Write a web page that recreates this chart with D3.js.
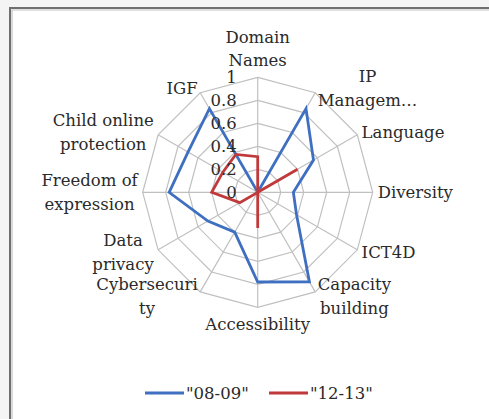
<!DOCTYPE html>
<html>
<head>
<meta charset="utf-8">
<script src="https://cdn.jsdelivr.net/npm/d3@7"></script>
<style>
  html, body { margin: 0; padding: 0; background: #f4f4f4; }
  svg { display: block; }
  text { font-family: "DejaVu Serif", serif; fill: #2a2a2a; }
</style>
</head>
<body>
<svg id="chart" width="489" height="419"></svg>
<script>
// ---- data ----
const categories = ["Domain Names", "IP Management", "Language", "Diversity", "ICT4D",
  "Capacity building", "Accessibility", "Cybersecurity", "Data privacy",
  "Freedom of expression", "Child online protection", "IGF"];
const categoryLabelLines = [["Domain", "Names"], ["IP", "Managem\u2026"], ["Language"], ["Diversity"], ["ICT4D"],
  ["Capacity", "building"], ["Accessibility"], ["Cybersecuri", "ty"], ["Data", "privacy"],
  ["Freedom of", "expression"], ["Child online", "protection"], ["IGF"]];
const seriesNames = ["\"08-09\"", "\"12-13\""];
const values0809 = [0, 0.84, 0.56, 0.31, 0.39, 0.90, 0.78, 0.40, 0.50, 0.77, 0.70, 0.84];
const values1213 = [0.31, 0, 0.40, 0, 0, 0, 0.31, 0, 0.18, 0.40, 0.35, 0.38];
const tickValues = [0, 0.2, 0.4, 0.6, 0.8, 1];
const tickLabels = ["0", "0.2", "0.4", "0.6", "0.8", "1"];
const seriesColors = ["#3e6fc0", "#c0393b"];

// ---- layout ----
const svg = d3.select("#chart");
const cx = 257.7, cy = 192.3, R = 115;
const fontSize = 16.5, lineH = 23.5;

// panel
svg.append("rect").attr("x", 10).attr("y", 8).attr("width", 600).attr("height", 600)
  .attr("fill", "#ffffff").attr("stroke", "#6f6f6f").attr("stroke-width", 2);
svg.append("path").attr("d", "M12,610 V10 H600").attr("fill", "none")
  .attr("stroke", "#c0c0c0").attr("stroke-width", 1.2);

const g = svg.append("g").attr("transform", `translate(${cx},${cy})`);

const r = d3.scaleLinear().domain([0, 1]).range([0, R]);
const angle = d3.scaleLinear().domain([0, categories.length]).range([0, 2 * Math.PI]);

const pt = (i, v) => [Math.sin(angle(i)) * r(v), -Math.cos(angle(i)) * r(v)];

// grid rings
tickValues.filter(t => t > 0).forEach(t => {
  g.append("path")
    .attr("d", d3.lineRadial().angle((d, i) => angle(i)).radius(() => r(t)).curve(d3.curveLinearClosed)(categories))
    .attr("fill", "none").attr("stroke", "#c0c0c0").attr("stroke-width", 1.2);
});
// spokes
categories.forEach((c, i) => {
  const p = pt(i, 1);
  g.append("line").attr("x1", 0).attr("y1", 0).attr("x2", p[0]).attr("y2", p[1])
    .attr("stroke", "#c0c0c0").attr("stroke-width", 1.2);
});

// series
const radial = d3.lineRadial().angle((d, i) => angle(i)).radius(d => r(d)).curve(d3.curveLinearClosed);
[values0809, values1213].forEach((vals, k) => {
  g.append("path").attr("d", radial(vals)).attr("fill", "none")
    .attr("stroke", seriesColors[k]).attr("stroke-width", 2.8).attr("stroke-linejoin", "miter");
});

// tick labels
tickValues.forEach((t, i) => {
  g.append("text").attr("x", -21).attr("y", -r(t)).attr("dy", "0.35em")
    .attr("text-anchor", "end").attr("font-size", fontSize).text(tickLabels[i]);
});

// category labels
categoryLabelLines.forEach((lines, i) => {
  const a = angle(i);
  const s = Math.sin(a), c = -Math.cos(a);
  const px = s * (R + 5), py = c * (R + 5);
  const tg = g.append("g");
  const texts = lines.map(l => tg.append("text").attr("font-size", fontSize).attr("text-anchor", "middle").text(l));
  const w = d3.max(texts, t => t.node().getComputedTextLength());
  const h = lines.length * lineH;
  let midX, topY;
  if (Math.abs(s) < 0.01) {
    midX = px;
    topY = c < 0 ? py - h : py;
  } else {
    midX = s > 0 ? px + w / 2 : px - w / 2;
    topY = py - h / 2;
  }
  texts.forEach((t, j) => t.attr("x", midX).attr("y", topY + lineH * (j + 0.5)).attr("dy", "0.35em"));
});

// legend
const legendY = 393;
const legendX = [145, 269];
seriesNames.forEach((name, k) => {
  svg.append("line").attr("x1", legendX[k]).attr("x2", legendX[k] + 39)
    .attr("y1", legendY).attr("y2", legendY)
    .attr("stroke", seriesColors[k]).attr("stroke-width", 2.8);
  svg.append("text").attr("x", legendX[k] + 41).attr("y", legendY).attr("dy", "0.35em")
    .attr("font-size", fontSize).text(name);
});
</script>
</body>
</html>
